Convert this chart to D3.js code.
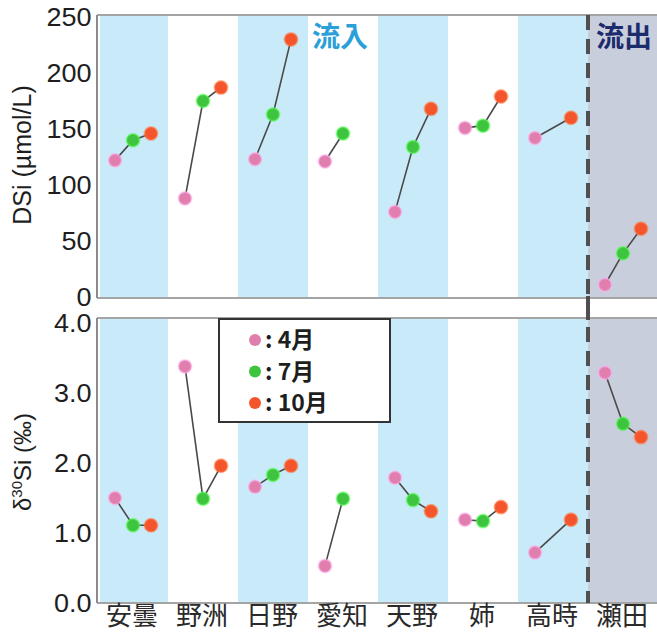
<!DOCTYPE html>
<html>
<head>
<meta charset="utf-8">
<script src="https://cdn.jsdelivr.net/npm/d3@7/dist/d3.min.js"></script>
<style>
  html, body { margin: 0; padding: 0; background: #fff; }
  svg { display: block; }
  text { font-family: "Liberation Sans", Arial, "Noto Sans CJK JP", sans-serif; }
</style>
</head>
<body>
<svg id="chart" width="657" height="635"></svg>
<script>
// Sampling sites (inflow rivers, then the outflow at 瀬田)
const sites = ["安曇", "野洲", "日野", "愛知", "天野", "姉", "高時", "瀬田"];
const months = ["4月", "7月", "10月"];
const monthColors = ["#e07fae", "#3fc43f", "#f4552d"];

// Dissolved silica (µmol/L) per site: April, July, October (null = not sampled)
const dsiApr = [122, 88, 123, 121, 76, 151, 142, 11];
const dsiJul = [140, 175, 163, 146, 134, 153, null, 39];
const dsiOct = [146, 187, 230, null, 168, 179, 160, 61];

// δ30Si (‰) per site: April, July, October
const d30Apr = [1.50, 3.38, 1.66, 0.53, 1.79, 1.19, 0.72, 3.29];
const d30Jul = [1.11, 1.49, 1.83, 1.49, 1.47, 1.17, null, 2.56];
const d30Oct = [1.11, 1.96, 1.96, null, 1.31, 1.37, 1.19, 2.37];

const dsiTicks = [0, 50, 100, 150, 200, 250];
const d30Ticks = [0, 1, 2, 3, 4];

const svg = d3.select("#chart");

const x = d3.scaleBand().domain(sites).range([98, 658]).padding(0);
const off = d3.scalePoint().domain(months).range([-18, 18]);

const panels = [
  { series: [dsiApr, dsiJul, dsiOct], ticks: dsiTicks, fmt: d3.format("d"),
    y: d3.scaleLinear().domain([0, 250]).range([297, 17]), top: 15, bottom: 298,
    title: "DSi (µmol/L)", titleY: 155 },
  { series: [d30Apr, d30Jul, d30Oct], ticks: d30Ticks, fmt: d3.format(".1f"),
    y: d3.scaleLinear().domain([0, 4]).range([603, 323]), top: 318, bottom: 603,
    titleY: 462 }
];

const bandFill = (i) => i === sites.length - 1 ? "#c9cedd" : (i % 2 === 0 ? "#c9ebf9" : "#ffffff");

panels.forEach((p, pi) => {
  const g = svg.append("g");

  // background bands per site
  g.selectAll("rect.band").data(sites).join("rect")
    .attr("class", "band")
    .attr("x", d => x(d) + (sites.indexOf(d) === 0 ? 2 : 0))
    .attr("y", p.top)
    .attr("width", d => x.bandwidth() - (sites.indexOf(d) === 0 ? 2 : 0))
    .attr("height", p.bottom - p.top)
    .attr("fill", (d, i) => bandFill(i));

  // frame lines
  g.append("line").attr("x1", 97).attr("x2", 658).attr("y1", p.top).attr("y2", p.top)
    .attr("stroke", "#a4a4a4").attr("stroke-width", 2);
  g.append("line").attr("x1", 97).attr("x2", 658).attr("y1", p.bottom).attr("y2", p.bottom)
    .attr("stroke", "#a4a4a4").attr("stroke-width", 2);

  // y axis
  const axis = d3.axisLeft(p.y).tickValues(p.ticks).tickFormat(p.fmt).tickSize(0).tickPadding(5);
  const ax = g.append("g").attr("transform", "translate(97,0)").call(axis);
  ax.select(".domain").attr("stroke", "#8c8c8c").attr("stroke-width", 2)
    .attr("d", `M0,${p.top}V${p.bottom}`);
  ax.selectAll(".tick text").attr("font-size", 25).attr("fill", "#1e1e1e")
    .attr("transform", "scale(1.08,1)").attr("dy", "0.35em");

  // axis title
  const t = g.append("text")
    .attr("transform", `translate(31,${p.titleY}) rotate(-90)`)
    .attr("text-anchor", "middle")
    .attr("font-size", pi === 0 ? 25 : 24).attr("fill", "#1e1e1e");
  if (pi === 0) {
    t.text(p.title);
  } else {
    t.append("tspan").text("δ");
    t.append("tspan").attr("font-size", 15).attr("dy", -9).text("30");
    t.append("tspan").attr("dy", 9).text("Si (‰)");
  }

  // connecting lines per site
  const line = d3.line()
    .defined(d => d.v != null)
    .x(d => x(d.site) + x.bandwidth() / 2 + off(d.m))
    .y(d => p.y(d.v));
  sites.forEach((s, i) => {
    const pts = months.map((m, k) => ({ site: s, m, v: p.series[k][i] })).filter(d => d.v != null);
    g.append("path").datum(pts).attr("d", line)
      .attr("fill", "none").attr("stroke", "#4a4a4a").attr("stroke-width", 1.6);
  });

  // points
  months.forEach((m, k) => {
    const pts = sites.map((s, i) => ({ site: s, v: p.series[k][i] })).filter(d => d.v != null);
    g.selectAll(null).data(pts).join("circle")
      .attr("cx", d => x(d.site) + x.bandwidth() / 2 + off(m))
      .attr("cy", d => p.y(d.v))
      .attr("r", 6.5)
      .attr("fill", monthColors[k])
      .attr("stroke", d3.color(monthColors[k]).brighter(0.9).copy({ opacity: 0.5 }))
      .attr("stroke-width", 2);
  });
});

// dashed divider between inflow and outflow sites
const divX = x(sites[sites.length - 1]);
svg.append("line").attr("x1", divX).attr("x2", divX).attr("y1", 15).attr("y2", 603)
  .attr("stroke", "#4f4f4f").attr("stroke-width", 4).attr("stroke-dasharray", "15,9");
svg.append("line").attr("x1", divX).attr("x2", divX).attr("y1", 296).attr("y2", 320)
  .attr("stroke", "#4f4f4f").attr("stroke-width", 4);

// region labels
svg.append("text").attr("x", 312).attr("y", 47).attr("font-size", 28).attr("font-weight", "bold")
  .attr("fill", "#2b9fd8").style("font-family", "'Noto Sans CJK JP', sans-serif").text("流入");
svg.append("text").attr("x", 596).attr("y", 47).attr("font-size", 28).attr("font-weight", "bold")
  .attr("fill", "#1b2b6b").style("font-family", "'Noto Sans CJK JP', sans-serif").text("流出");

// site labels along the bottom
svg.selectAll("text.site").data(sites).join("text")
  .attr("class", "site")
  .attr("x", d => x(d) + x.bandwidth() / 2 - 1)
  .attr("y", 625)
  .attr("text-anchor", "middle")
  .attr("font-size", 26)
  .attr("fill", "#2a2a2a")
  .style("font-family", "'Noto Sans CJK JP', sans-serif")
  .text(d => d);

// legend
const lg = svg.append("g");
lg.append("rect").attr("x", 219).attr("y", 319).attr("width", 171).attr("height", 103)
  .attr("fill", "#fff").attr("stroke", "#333").attr("stroke-width", 2);
months.forEach((m, k) => {
  const cy = 340 + k * 31.5;
  lg.append("circle").attr("cx", 255).attr("cy", cy).attr("r", 6)
    .attr("fill", monthColors[k]);
  lg.append("text").attr("x", 265).attr("y", cy).attr("dy", "0.36em")
    .attr("font-size", 23).attr("font-weight", "bold").attr("fill", "#1e1e1e")
    .style("font-family", "'Noto Sans CJK JP', sans-serif")
    .text(": " + m);
});
</script>
</body>
</html>
